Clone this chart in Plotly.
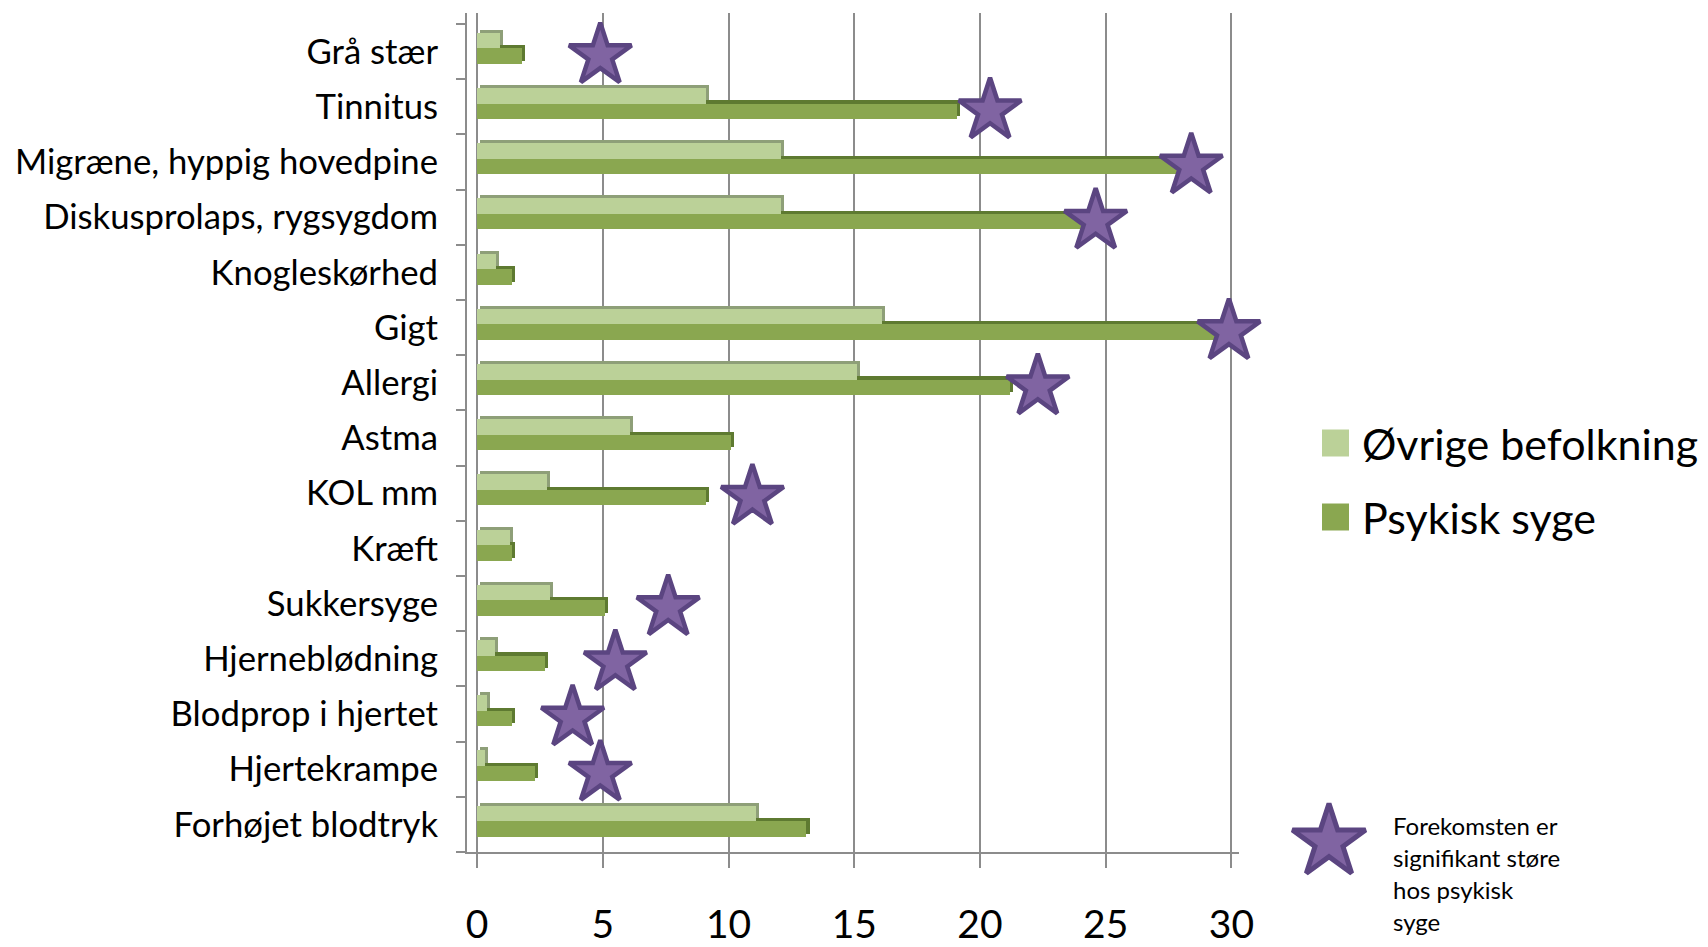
import plotly.graph_objects as go

categories = ["Grå stær", "Tinnitus", "Migræne, hyppig hovedpine", "Diskusprolaps, rygsygdom",
              "Knogleskørhed", "Gigt", "Allergi", "Astma", "KOL mm", "Kræft", "Sukkersyge",
              "Hjerneblødning", "Blodprop i hjertet", "Hjertekrampe", "Forhøjet blodtryk"]
ovrige = [0.9, 9.1, 12.1, 12.1, 0.75, 16.1, 15.1, 6.1, 2.8, 1.3, 2.9, 0.7, 0.4, 0.3, 11.1]
psykisk = [1.8, 19.1, 28.0, 24.2, 1.4, 29.7, 21.2, 10.1, 9.1, 1.4, 5.1, 2.7, 1.4, 2.3, 13.1]
signifikant = [4.9, 20.4, 28.4, 24.6, None, 29.9, 22.3, None, 10.95, None, 7.6, 5.5, 3.8, 4.9, None]
x_ticks = [0, 5, 10, 15, 20, 25, 30]
series_names = ["Øvrige befolkning", "Psykisk syge"]
note_lines = ["Forekomsten er", "signifikant støre", "hos psykisk", "syge"]

FONT = "Lato"
LIGHT, LIGHT_TOP = "#BBD198", "#8E9F78"
DARK, DARK_TOP = "#8AA750", "#5E7A31"
STAR_FILL, STAR_LINE = "#8064A2", "#5B4581"
GRID = "#8C8C8C"

W, H = 1708, 947
idx = list(range(len(categories)))
y_light = [i - 0.2 for i in idx]
y_dark = [i + 0.08 for i in idx]
bw = 0.28
dy, dx = -0.055, 0.12

fig = go.Figure()
# depth (3D top/right faces)
fig.add_trace(go.Bar(orientation="h", y=[v + dy for v in y_dark], x=psykisk, base=dx, width=bw,
                     marker=dict(color=DARK_TOP, line=dict(width=0)), showlegend=False, hoverinfo="skip"))
fig.add_trace(go.Bar(orientation="h", y=y_dark, x=psykisk, width=bw, name=series_names[1],
                     marker=dict(color=DARK, line=dict(width=0)), showlegend=False))
fig.add_trace(go.Bar(orientation="h", y=[v + dy for v in y_light], x=ovrige, base=dx, width=bw,
                     marker=dict(color=LIGHT_TOP, line=dict(width=0)), showlegend=False, hoverinfo="skip"))
fig.add_trace(go.Bar(orientation="h", y=y_light, x=ovrige, width=bw, name=series_names[0],
                     marker=dict(color=LIGHT, line=dict(width=0)), showlegend=False))

sx = [v for v in signifikant if v is not None]
sy = [i + 0.07 for i, v in zip(idx, signifikant) if v is not None]
fig.add_trace(go.Scatter(x=sx, y=sy, mode="markers", showlegend=False,
                         marker=dict(symbol="star", size=47, color=STAR_FILL,
                                     line=dict(color=STAR_LINE, width=4.5)),
                         cliponaxis=False))

# custom legend on a pixel-space axis covering the whole figure
fig.add_trace(go.Scatter(x=[1335.5, 1335.5], y=[443, 517], mode="markers", xaxis="x2", yaxis="y2",
                         showlegend=False, hoverinfo="skip",
                         marker=dict(symbol="square", size=27, color=[LIGHT, DARK], line=dict(width=0))))
fig.add_trace(go.Scatter(x=[1329], y=[842], mode="markers", xaxis="x2", yaxis="y2",
                         showlegend=False, hoverinfo="skip",
                         marker=dict(symbol="star", size=55, color=STAR_FILL,
                                     line=dict(color=STAR_LINE, width=5))))

ann = []
for name, yy in zip(series_names, [443, 517]):
    ann.append(dict(x=1360, y=yy, xref="x2", yref="y2", text=name, showarrow=False,
                    xanchor="left", yanchor="middle", font=dict(family=FONT, size=43, color="black")))
for k, line in enumerate(note_lines):
    ann.append(dict(x=1391, y=825 + 32.3 * k, xref="x2", yref="y2", text=line, showarrow=False,
                    xanchor="left", yanchor="middle", font=dict(family=FONT, size=24, color="black")))

fig.update_layout(
    width=W, height=H, margin=dict(l=0, r=0, t=0, b=0),
    paper_bgcolor="white", plot_bgcolor="rgba(0,0,0,0)", barmode="overlay", bargap=0,
    showlegend=False, annotations=ann,
    xaxis=dict(domain=[467 / W, 1239 / W], range=[-0.4, 30.3], tickvals=x_ticks,
               showgrid=True, gridcolor=GRID, gridwidth=2, zeroline=False,
               showline=True, linecolor=GRID, linewidth=2, ticks="outside", ticklen=14,
               tickcolor=GRID, tickwidth=2, ticklabelstandoff=23,
               tickfont=dict(family=FONT, size=39, color="black"), automargin=False, fixedrange=True),
    yaxis=dict(domain=[1 - 852 / H, 1 - 13 / H], range=[14.5, -0.7], tickvals=idx, ticktext=categories,
               showgrid=False, zeroline=False, showline=True, linecolor=GRID, linewidth=2,
               ticks="", ticklabelstandoff=20,
               minor=dict(tick0=0.5, dtick=1, ticks="outside", ticklen=9, tickcolor=GRID, tickwidth=2),
               tickfont=dict(family=FONT, size=34.7, color="black"), automargin=False, fixedrange=True),
    xaxis2=dict(domain=[0, 1], range=[0, W], visible=False, anchor="y2", fixedrange=True),
    yaxis2=dict(domain=[0, 1], range=[H, 0], visible=False, anchor="x2", fixedrange=True),
)

fig.write_html("out.html")
